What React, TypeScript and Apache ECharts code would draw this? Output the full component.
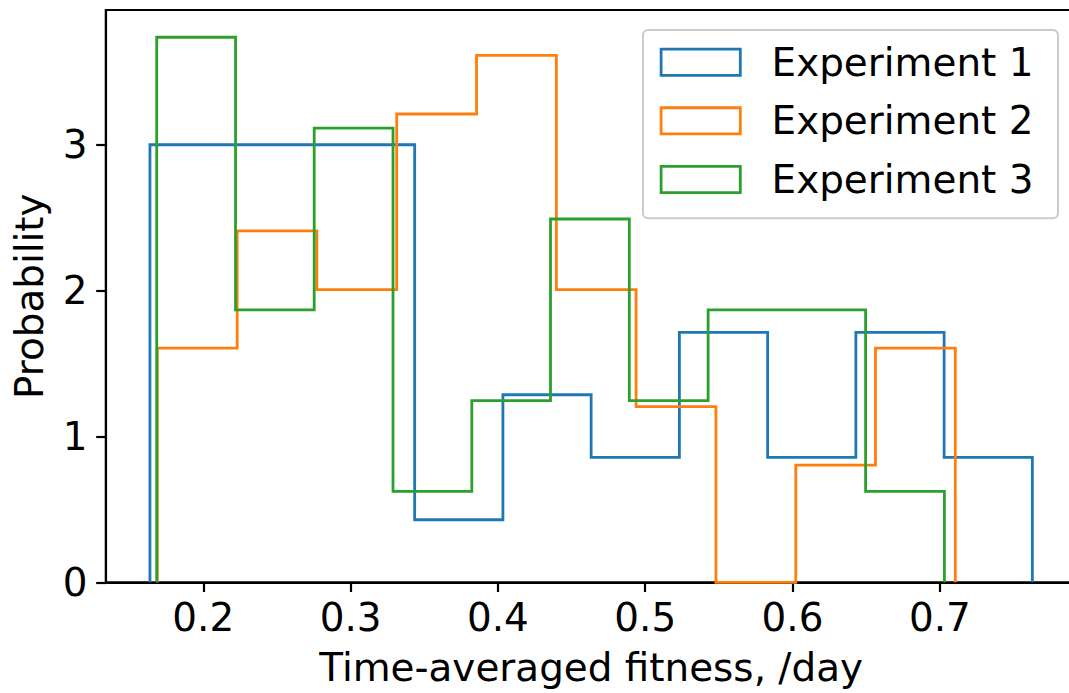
import React, { useEffect, useRef } from "react";
import * as echarts from "echarts";

const seriesNames = ["Experiment 1", "Experiment 2", "Experiment 3"];
const colors = ["#1f77b4", "#ff7f0e", "#2ca02c"];

// Experiment 1 histogram (density) bin edges and heights
const binEdges1 = [0.1638, 0.2237, 0.2836, 0.3435, 0.4034, 0.4633, 0.5232, 0.5831, 0.643, 0.7029, 0.7628];
const density1 = [3.0, 3.0, 3.0, 0.429, 1.286, 0.857, 1.714, 0.857, 1.714, 0.857];

// Experiment 2
const binEdges2 = [0.1688, 0.223, 0.2771, 0.3313, 0.3855, 0.4397, 0.4938, 0.548, 0.6022, 0.6563, 0.7105];
const density2 = [1.606, 2.409, 2.007, 3.211, 3.613, 2.007, 1.204, 0, 0.803, 1.606];

// Experiment 3
const binEdges3 = [0.1684, 0.2219, 0.2753, 0.3288, 0.3823, 0.4357, 0.4892, 0.5427, 0.5962, 0.6496, 0.7031];
const density3 = [3.737, 1.868, 3.114, 0.623, 1.246, 2.491, 1.246, 1.868, 1.868, 0.623];

const xTickValues = [0.2, 0.3, 0.4, 0.5, 0.6, 0.7];
const yTickValues = [0, 1, 2, 3];
const xRange = [0.1339, 0.7927];
const yRange = [0, 3.924];

const xTitle = "Time-averaged fitness, /day";
const yTitle = "Probability";

const FONT = "DejaVu Sans";
const FS = 38.9;

function stepOutline(edges: number[], heights: number[]) {
  const pts: number[][] = [[edges[0], 0]];
  heights.forEach((h, i) => {
    pts.push([edges[i], h]);
    pts.push([edges[i + 1], h]);
  });
  pts.push([edges[edges.length - 1], 0]);
  return pts;
}

export default function App() {
  const ref = useRef<HTMLDivElement>(null);
  useEffect(() => {
    if (!ref.current) return;
    const chart = echarts.init(ref.current, undefined, { renderer: "svg" });
    const all = [
      [binEdges1, density1],
      [binEdges2, density2],
      [binEdges3, density3],
    ];
    const axisLineStyle = { color: "#000", width: 2.2 };
    chart.setOption({
      animation: false,
      backgroundColor: "#fff",
      grid: {
        left: 105.9,
        top: 10,
        right: -7.4,
        bottom: 110.7,
        outerBoundsMode: "none",
        containLabel: false,
        show: true,
        borderColor: "#000",
        borderWidth: 2.2,
        backgroundColor: "transparent",
      },
      xAxis: {
        type: "value",
        min: xRange[0],
        max: xRange[1],
        name: xTitle,
        nameLocation: "middle",
        nameGap: 66,
        nameTextStyle: { fontFamily: FONT, fontSize: FS, color: "#000", lineHeight: 39 },
        axisLine: { show: true, onZero: false, lineStyle: axisLineStyle },
        axisTick: { show: true, length: 9.7, lineStyle: axisLineStyle, customValues: xTickValues },
        axisLabel: {
          customValues: xTickValues,
          formatter: (v: number) => v.toFixed(1),
          margin: 16,
          fontFamily: FONT,
          fontSize: FS,
          color: "#000",
          lineHeight: 39,
        },
        splitLine: { show: false },
      },
      yAxis: {
        type: "value",
        min: yRange[0],
        max: yRange[1],
        name: yTitle,
        nameLocation: "middle",
        nameRotate: 90,
        nameGap: 57,
        nameTextStyle: { fontFamily: FONT, fontSize: FS, color: "#000", lineHeight: 39 },
        axisLine: { show: true, onZero: false, lineStyle: axisLineStyle },
        axisTick: { show: true, length: 9.7, lineStyle: axisLineStyle, customValues: yTickValues },
        axisLabel: {
          customValues: yTickValues,
          formatter: (v: number) => String(v),
          margin: 18.3,
          fontFamily: FONT,
          fontSize: FS,
          color: "#000",
          lineHeight: 39,
        },
        splitLine: { show: false },
      },
      legend: {
        orient: "vertical",
        left: 643,
        top: 30,
        padding: [12.7, 24.6, 19.3, 16.7],
        itemWidth: 79.2,
        itemHeight: 26.2,
        itemGap: 19.65,
        icon: "rect",
        selectedMode: false,
        backgroundColor: "#fff",
        borderColor: "#cccccc",
        borderWidth: 2,
        borderRadius: 5,
        textStyle: {
          fontFamily: FONT,
          fontSize: FS,
          color: "#000",
          lineHeight: 39,
          padding: [0, 0, 0, 26.3],
        },
        data: seriesNames.map((n, i) => ({
          name: n,
          icon: "rect",
          itemStyle: { color: "rgba(0,0,0,0)", borderColor: colors[i], borderWidth: 2.8 },
        })),
      },
      series: all.map(([edges, heights], i) => ({
        name: seriesNames[i],
        type: "line",
        data: stepOutline(edges as number[], heights as number[]),
        showSymbol: false,
        symbol: "none",
        color: colors[i],
        lineStyle: { color: colors[i], width: 2.8, cap: "butt", join: "miter" },
        clip: false,
      })),
    });
    return () => chart.dispose();
  }, []);
  return (
    <div
      ref={ref}
      style={{ position: "absolute", left: 0, top: 0, width: 1069, height: 693 }}
    />
  );
}
